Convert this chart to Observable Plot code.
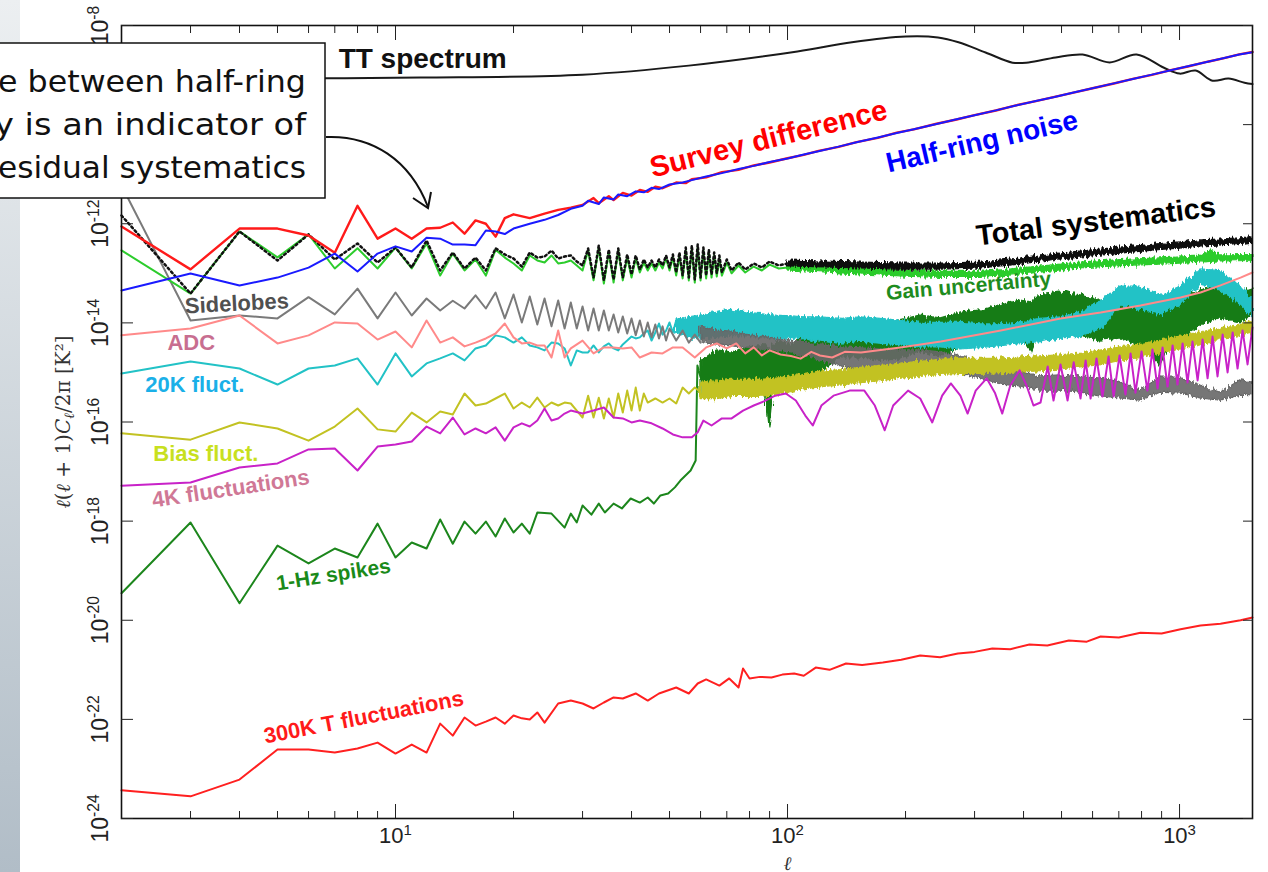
<!DOCTYPE html>
<html>
<head>
<meta charset="utf-8">
<script src="https://cdn.jsdelivr.net/npm/d3@7"></script>
<script src="https://cdn.jsdelivr.net/npm/@observablehq/plot@0.6"></script>
<style>
  html, body { margin: 0; padding: 0; background: #fff; overflow: hidden; }
  #chart { position: absolute; left: 0; top: 0; }
</style>
</head>
<body>
<div id="chart"></div>
<script>
// Angular power spectra, l(l+1)C_l/2pi in K^2, as [multipole, value] pairs.
const ttSpectrum = [[2,9.0e-10],[5,8.6e-10],[11.6,8.9e-10],[30,1.02e-9],[56,1.55e-9],[106,3.0e-9],[146,4.6e-9],[200,6.0e-9],[242,5.75e-9],[273,4.6e-9],[320,2.86e-9],[375,1.78e-9],[412,1.8e-9],[483,2.26e-9],[566,2.6e-9],[663,1.8e-9],[777,2.6e-9],[910,1.42e-9],[1000,1.07e-9],[1099,1.23e-9],[1214,7.7e-10],[1334,8.5e-10],[1465,7.0e-10],[1535,6.6e-10]];

const surveyDifference = [[2,8.8e-13],[3,1.2e-13],[4,8.0e-13],[5,8.0e-13],[6,5.8e-13],[7,2.6e-13],[8,2.3e-12],[9,5.0e-13],[10,8.0e-13],[11,5.0e-13],[12,8.0e-13],[13,8.3e-13],[14,1.06e-12],[15,6.3e-13],[16,1.17e-12],[17,1.0e-12],[18,5.5e-13],[19,1.3e-12],[20,1.55e-12],[22,1.3e-12],[24,1.6e-12],[26,1.9e-12],[28,2.1e-12],[30,2.4e-12],[32,3.3e-12],[33,2.6e-12],[35,3.6e-12],[36,3.0e-12],[38,4.2e-12],[40,3.7e-12],[42,4.8e-12],[44,4.4e-12],[46,5.6e-12],[48,5.2e-12],[52,6.8e-12],[55,6.6e-12],[57,7.9e-12],[62,8.6e-12],[68,1.1e-11],[75,1.22e-11],[82,1.5e-11],[90,1.72e-11],[100,2.1e-11],[110,2.45e-11],[120,2.95e-11],[135,3.55e-11],[150,4.45e-11],[170,5.4e-11],[190,6.9e-11],[210,8.0e-11],[240,1.04e-10],[270,1.27e-10],[300,1.56e-10],[340,1.93e-10],[380,2.42e-10],[430,2.98e-10],[480,3.62e-10],[540,4.48e-10],[600,5.42e-10],[680,6.75e-10],[760,8.35e-10],[850,1.01e-9],[950,1.26e-9],[1050,1.49e-9],[1180,1.86e-9],[1300,2.19e-9],[1420,2.62e-9],[1535,2.92e-9]];

const halfRingNoise = [[2,4.5e-14],[3,9.9e-14],[4,5.7e-14],[5,8.2e-14],[6,1.3e-13],[7,2.5e-13],[8,1.09e-13],[9,2.5e-13],[10,3.5e-13],[11,2.75e-13],[12,5.2e-13],[13,5.0e-13],[14,3.8e-13],[15,3.8e-13],[16,3.7e-13],[17,7.3e-13],[18,7.0e-13],[19,6.2e-13],[20,8.0e-13],[22,1.0e-12],[24,1.2e-12],[26,1.5e-12],[28,2.0e-12],[30,2.3e-12],[31,2.9e-12],[33,2.5e-12],[34,3.4e-12],[36,3.1e-12],[37,3.9e-12],[39,3.6e-12],[41,4.5e-12],[43,4.3e-12],[45,5.3e-12],[47,5.0e-12],[50,6.2e-12],[54,6.8e-12],[57,7.6e-12],[62,9.0e-12],[68,1.05e-11],[75,1.27e-11],[82,1.47e-11],[90,1.76e-11],[100,2.08e-11],[110,2.5e-11],[120,2.9e-11],[135,3.6e-11],[150,4.4e-11],[170,5.5e-11],[190,6.8e-11],[210,8.1e-11],[240,1.03e-10],[270,1.28e-10],[300,1.55e-10],[340,1.94e-10],[380,2.4e-10],[430,3.0e-10],[480,3.6e-10],[540,4.5e-10],[600,5.4e-10],[680,6.8e-10],[760,8.3e-10],[850,1.02e-9],[950,1.25e-9],[1050,1.5e-9],[1180,1.85e-9],[1300,2.2e-9],[1420,2.6e-9],[1535,2.9e-9]];

// Total of systematics: dotted at low multipoles, then a min/max band.
const totalLow = [[2,1.47e-12],[3,3.9e-14],[4,7.0e-13],[5,1.81e-13],[6,6.1e-13],[7,1.9e-13],[8,4.0e-13],[9,1.65e-13],[10,3.3e-13],[11,1.31e-13],[12,4.6e-13],[13,1.14e-13],[14,2.63e-13],[15,1.25e-13],[16,2.08e-13],[17,1.14e-13],[18,3.2e-13],[19,2.4e-13],[20,1.99e-13],[21,1.37e-13],[22,2.63e-13],[23,2.08e-13],[24,2.18e-13],[25,2.88e-13],[26,1.99e-13],[27,2.18e-13],[28,2.29e-13],[29,1.73e-13],[30,1.44e-13],[31,3.16e-13],[32,8.2e-14],[33,3.64e-13],[34,7.2e-14],[35,3.0e-13],[36,7.5e-14],[37,3.16e-13],[38,8.2e-14],[39,2.4e-13],[40,9.5e-14],[41,2.29e-13],[42,1.19e-13],[43,1.9e-13],[44,1.31e-13],[45,1.81e-13],[46,1.31e-13],[47,1.9e-13],[48,1.44e-13],[49,2.29e-13],[50,1.31e-13],[51,2.4e-13],[52,1.04e-13],[53,2.63e-13],[54,9.0e-14],[55,3.3e-13],[56,8.2e-14],[57,3.64e-13],[58,7.5e-14],[59,3.8e-13],[60,8.2e-14],[61,3.3e-13],[62,9.0e-14],[63,3.0e-13],[64,9.5e-14],[65,2.63e-13],[66,1.0e-13],[67,2.29e-13],[68,1.04e-13],[70,1.9e-13],[72,1.14e-13],[75,1.65e-13],[78,1.19e-13],[82,1.58e-13],[86,1.31e-13],[90,1.73e-13],[95,1.44e-13],[100,1.58e-13]];
const totalBand = [[100,1.8e-13,1.38e-13],[154,1.65e-13,1.25e-13],[194,1.57e-13,1.19e-13],[246,1.57e-13,1.19e-13],[311,1.65e-13,1.25e-13],[350,1.8e-13,1.38e-13],[393,1.98e-13,1.5e-13],[442,2.3e-13,1.73e-13],[497,2.5e-13,1.9e-13],[559,2.75e-13,2.08e-13],[629,3.0e-13,2.28e-13],[707,3.3e-13,2.5e-13],[795,3.55e-13,2.7e-13],[895,3.9e-13,2.95e-13],[1006,4.2e-13,3.16e-13],[1131,4.6e-13,3.5e-13],[1272,4.8e-13,3.65e-13],[1431,5.1e-13,3.9e-13],[1535,5.3e-13,4.1e-13]];

const gainLow = [[2,2.9e-13],[3,3.9e-14],[4,7.0e-13],[5,2.1e-13],[6,6.1e-13],[7,1.25e-13],[8,3.2e-13],[9,1.25e-13],[10,3.3e-13],[11,1.25e-13],[12,4.0e-13],[13,9.0e-14],[14,2.5e-13],[15,1.14e-13],[16,1.9e-13],[17,9.0e-14],[18,3.0e-13],[19,2.08e-13],[20,1.58e-13],[21,1.14e-13],[22,2.29e-13],[23,1.81e-13],[24,1.65e-13],[25,2.29e-13],[26,1.58e-13],[27,1.65e-13],[28,1.81e-13],[29,1.44e-13],[30,1.14e-13],[31,2.88e-13],[32,7.2e-14],[33,3.3e-13],[34,6.2e-14],[35,2.63e-13],[36,6.5e-14],[37,2.88e-13],[38,7.2e-14],[39,2.08e-13],[40,8.2e-14],[41,1.99e-13],[42,1.04e-13],[43,1.65e-13],[44,1.14e-13],[45,1.58e-13],[46,1.14e-13],[47,1.65e-13],[48,1.25e-13],[49,1.99e-13],[50,1.14e-13],[51,2.08e-13],[52,9.0e-14],[53,2.29e-13],[54,7.9e-14],[55,2.88e-13],[56,7.2e-14],[57,3.16e-13],[58,6.5e-14],[59,3.3e-13],[60,7.2e-14],[61,2.88e-13],[62,7.9e-14],[63,2.63e-13],[64,8.2e-14],[65,2.29e-13],[66,8.6e-14],[67,1.99e-13],[68,9.0e-14],[70,1.65e-13],[72,1.0e-13],[75,1.44e-13],[78,1.04e-13],[82,1.37e-13],[86,1.14e-13],[90,1.5e-13],[95,1.25e-13],[100,1.31e-13]];
const gainBand = [[100,1.5e-13,1.14e-13],[154,1.25e-13,9.5e-14],[194,1.15e-13,8.7e-14],[246,1.07e-13,8.1e-14],[311,1.07e-13,8.1e-14],[350,1.15e-13,8.7e-14],[442,1.37e-13,1.03e-13],[559,1.65e-13,1.25e-13],[707,1.85e-13,1.4e-13],[895,2.0e-13,1.5e-13],[1131,2.18e-13,1.65e-13],[1200,2.9e-13,1.7e-13],[1272,2.3e-13,1.73e-13],[1535,2.33e-13,1.77e-13]];

const sidelobesLow = [[2,5.9e-12],[3,1.12e-14],[4,1.41e-14],[5,1.23e-14],[6,3.3e-14],[7,1.48e-14],[8,4.9e-14],[9,1.23e-14],[10,4.1e-14],[11,1.41e-14],[12,3.1e-14],[13,1.78e-14],[14,2.8e-14],[15,1.95e-14],[16,3.6e-14],[17,1.95e-14],[18,4.1e-14],[19,1.23e-14],[20,3.74e-14],[21,1.02e-14],[22,3.4e-14],[23,9.3e-15],[24,3.1e-14],[25,8.5e-15],[26,2.83e-14],[27,7.7e-15],[28,2.58e-14],[29,7.7e-15],[30,2.14e-14],[31,7.0e-15],[32,1.95e-14],[33,7.0e-15],[34,1.78e-14],[35,7.0e-15],[36,1.48e-14],[37,6.4e-15],[38,1.35e-14],[39,6.1e-15],[40,1.23e-14],[41,5.6e-15],[42,1.12e-14],[43,5.3e-15],[44,1.02e-14],[45,5.1e-15],[46,9.3e-15],[47,4.85e-15],[48,8.5e-15],[49,4.4e-15],[50,7.7e-15],[52,4.4e-15],[54,7.0e-15],[56,4.0e-15],[58,5.8e-15],[60,4.0e-15]];
const sidelobesBand = [[60,8.5e-15,4.0e-15],[66,7.0e-15,3.5e-15],[72,6.7e-15,3.35e-15],[78,5.8e-15,3.2e-15],[85,5.3e-15,2.9e-15],[93,4.85e-15,2.78e-15],[102,4.4e-15,2.53e-15],[111,4.0e-15,2.1e-15],[121,3.5e-15,1.75e-15],[137,3.2e-15,1.32e-15],[154,3.05e-15,1.1e-15],[173,2.9e-15,1.05e-15],[194,2.78e-15,1.0e-15],[218,2.78e-15,1.0e-15],[246,2.53e-15,1.0e-15],[276,2.1e-15,9.5e-16],[311,1.6e-15,7.6e-16],[350,1.26e-15,5.7e-16],[393,1.0e-15,5.2e-16],[442,8.3e-16,4.3e-16],[497,8.7e-16,4.3e-16],[559,7.9e-16,3.9e-16],[629,7.6e-16,3.27e-16],[707,6.25e-16,2.98e-16],[795,4.3e-16,2.71e-16],[895,7.9e-16,3.9e-16],[1006,7.9e-16,3.75e-16],[1131,5.45e-16,2.98e-16],[1272,3.9e-16,2.71e-16],[1431,6.9e-16,3.4e-16],[1535,6.25e-16,3.27e-16]];

const adc = [[2,5.6e-15],[3,7.7e-15],[4,1.41e-14],[5,3.85e-15],[6,5.6e-15],[7,1.02e-14],[8,9.7e-15],[9,4.6e-15],[10,6.7e-15],[11,3.2e-15],[12,1.12e-14],[13,4.0e-15],[14,5.1e-15],[15,3.35e-15],[16,4.0e-15],[17,4.85e-15],[18,6.1e-15],[19,9.7e-15],[20,5.1e-15],[21,3.85e-15],[22,4.0e-15],[23,3.5e-15],[24,3.5e-15],[25,2.0e-15],[26,7.0e-15],[27,2.0e-15],[28,3.05e-15],[30,4.4e-15],[32,2.42e-15],[34,3.2e-15],[36,3.2e-15],[38,3.05e-15],[40,3.2e-15],[42,2.0e-15],[45,2.53e-15],[48,2.42e-15],[51,3.2e-15],[54,3.2e-15],[58,2.0e-15],[62,3.2e-15],[66,3.85e-15],[70,3.05e-15],[74,3.85e-15],[78,2.42e-15],[82,3.2e-15],[86,2.2e-15],[90,2.78e-15],[96,2.3e-15],[102,2.15e-15],[108,1.9e-15],[115,2.6e-15],[121,2.2e-15],[130,2.0e-15],[140,2.6e-15],[154,2.53e-15],[194,3.2e-15],[246,4.2e-15],[350,7.0e-15],[497,1.23e-14],[629,1.62e-14],[795,2.24e-14],[1006,3.25e-14],[1131,4.1e-14],[1272,5.7e-14],[1431,8.2e-14],[1535,1.04e-13]];

const fluct20KLow = [[2,9.5e-16],[3,1.67e-15],[4,1.2e-15],[5,5.7e-16],[6,1.2e-15],[7,1.38e-15],[8,1.92e-15],[9,5.7e-16],[10,2.42e-15],[11,8.3e-16],[12,1.52e-15],[13,1.92e-15],[14,2.42e-15],[15,1.75e-15],[16,3.05e-15],[17,3.5e-15],[18,5.6e-15],[19,5.1e-15],[20,4.0e-15],[21,5.1e-15],[22,3.5e-15],[23,3.2e-15],[24,2.78e-15],[25,4.0e-15],[26,3.85e-15],[27,3.05e-15],[28,1.38e-15],[29,2.78e-15],[30,2.53e-15],[31,2.53e-15],[32,3.5e-15],[33,2.53e-15],[34,3.35e-15],[35,3.85e-15],[36,3.05e-15],[37,2.78e-15],[38,3.67e-15],[39,4.4e-15],[40,5.3e-15],[41,4.85e-15],[42,5.1e-15],[43,6.1e-15],[44,7.0e-15],[45,4.4e-15],[46,6.4e-15],[47,9.7e-15],[48,5.8e-15],[49,7.0e-15],[50,1.02e-14],[51,6.4e-15],[52,1.12e-14],[53,6.0e-15],[54,1.2e-14]];
const fluct20KBand = [[52,1.15e-14,6.2e-15],[56,1.3e-14,5.0e-15],[60,1.4e-14,4.6e-15],[66,1.6e-14,5.0e-15],[72,1.75e-14,5.4e-15],[78,1.65e-14,5.4e-15],[85,1.5e-14,5.0e-15],[93,1.4e-14,4.6e-15],[102,1.35e-14,5.0e-15],[111,1.3e-14,4.6e-15],[121,1.3e-14,4.2e-15],[137,1.2e-14,3.8e-15],[154,1.3e-14,4.2e-15],[173,1.2e-14,3.8e-15],[194,1.1e-14,3.5e-15],[218,1.0e-14,3.2e-15],[246,1.0e-14,3.2e-15],[276,1.0e-14,2.9e-15],[311,9.3e-15,3.1e-15],[350,9.3e-15,3.4e-15],[393,1.0e-14,3.7e-15],[442,1.2e-14,4.1e-15],[497,1.3e-14,4.8e-15],[559,1.55e-14,5.3e-15],[629,2.7e-14,7.5e-15],[707,5.4e-14,2.3e-14],[795,5.4e-14,1.85e-14],[895,3.5e-14,1.45e-14],[1006,5.4e-14,2.3e-14],[1131,1.2e-13,5.9e-14],[1272,1.1e-13,4.7e-14],[1431,5.5e-14,2.3e-14],[1535,3.0e-14,1.3e-14]];

const biasLow = [[2,5.9e-17],[3,4.4e-17],[4,9.8e-17],[5,7.4e-17],[6,4.2e-17],[7,8.1e-17],[8,1.87e-16],[9,7.1e-17],[10,6.4e-17],[11,1.55e-16],[12,9.8e-17],[13,1.63e-16],[14,1.42e-16],[15,3.75e-16],[16,2.15e-16],[17,2.36e-16],[18,2.98e-16],[19,3.75e-16],[20,1.87e-16],[21,2.47e-16],[22,1.96e-16],[23,3.1e-16],[24,1.96e-16],[25,2.47e-16],[26,2.15e-16],[27,2.47e-16],[28,2.36e-16],[29,1.7e-16],[30,1.23e-16],[31,3.4e-16],[32,1.23e-16],[33,3.1e-16],[34,1.18e-16],[35,2.98e-16],[36,1.23e-16],[37,3.75e-16],[38,1.55e-16],[39,4.3e-16],[40,1.7e-16],[41,4.95e-16],[42,1.7e-16],[43,3.75e-16],[44,2.47e-16],[46,2.98e-16],[48,2.47e-16],[50,2.98e-16],[52,2.36e-16],[54,4.95e-16],[56,3.75e-16],[58,4.95e-16],[60,4.0e-16]];
const biasBand = [[60,6.5e-16,2.9e-16],[66,6.5e-16,2.9e-16],[72,7.1e-16,3.2e-16],[78,7.1e-16,3.2e-16],[85,7.1e-16,3.2e-16],[93,7.4e-16,3.5e-16],[102,8.2e-16,4.0e-16],[111,9.4e-16,4.6e-16],[121,1.03e-15,5.0e-16],[137,1.12e-15,5.5e-16],[154,1.24e-15,6.1e-16],[173,1.36e-15,6.7e-16],[194,1.5e-15,7.4e-16],[218,1.64e-15,8.1e-16],[246,1.8e-15,8.9e-16],[276,1.88e-15,9.3e-16],[311,1.88e-15,9.3e-16],[350,1.9e-15,9.7e-16],[393,2.0e-15,1.0e-15],[442,2.1e-15,1.06e-15],[497,2.2e-15,1.15e-15],[559,2.4e-15,1.26e-15],[629,2.75e-15,1.4e-15],[707,3.2e-15,1.7e-15],[795,3.65e-15,1.95e-15],[895,4.4e-15,2.4e-15],[1006,5.3e-15,2.9e-15],[1131,6.4e-15,3.5e-15],[1272,7.7e-15,4.4e-15],[1431,9.3e-15,5.5e-15],[1535,1.07e-14,6.4e-15]];

const fluct4K = [[2,5.2e-18],[3,6.0e-18],[4,1.21e-17],[5,1.46e-17],[6,2.8e-17],[7,2.93e-17],[8,1.05e-17],[9,3.2e-17],[10,3.5e-17],[11,4.05e-17],[12,8.1e-17],[13,5.9e-17],[14,1.23e-16],[15,5.6e-17],[16,7.4e-17],[17,5.9e-17],[18,7.8e-17],[19,4.2e-17],[20,7.8e-17],[21,9.4e-17],[22,8.1e-17],[23,1.07e-16],[24,1.87e-16],[25,1.07e-16],[26,1.18e-16],[27,1.48e-16],[28,1.7e-16],[30,1.48e-16],[32,1.7e-16],[34,1.96e-16],[36,1.23e-16],[38,1.18e-16],[40,9.8e-17],[42,1.07e-16],[45,9.4e-17],[48,7.4e-17],[51,5.6e-17],[54,4.9e-17],[57,4.9e-17],[59,6.2e-17],[61,1.07e-16],[64,8.5e-17],[68,1.18e-16],[72,1.18e-16],[77,1.7e-16],[82,2.15e-16],[87,2.6e-16],[93,3.4e-16],[99,3.75e-16],[105,2.71e-16],[111,1.35e-16],[116,8.5e-17],[122,2.15e-16],[131,3.4e-16],[144,4.3e-16],[157,4.3e-16],[167,2.15e-16],[177,6.8e-17],[186,2.15e-16],[203,4.3e-16],[218,2.98e-16],[234,9.8e-17],[248,3.4e-16],[261,6.0e-16],[276,3.4e-16],[288,1.48e-16],[302,4.3e-16],[322,7.6e-16],[338,3.9e-16],[353,1.48e-16],[370,5.45e-16],[391,1.1e-15],[407,5.45e-16],[424,2.15e-16],[442,2.47e-16],[461,1.32e-15],[477,2.71e-16],[497,1.45e-15],[518,2.71e-16],[537,1.6e-15],[559,2.98e-16],[576,1.75e-15],[593,2.98e-16],[614,1.92e-15],[636,3.27e-16],[659,2.1e-15],[679,3.27e-16],[703,2.2e-15],[728,3.6e-16],[750,2.42e-15],[772,3.9e-16],[800,2.65e-15],[828,4.3e-16],[853,2.9e-15],[879,4.75e-16],[905,3.2e-15],[932,5.2e-16],[960,3.5e-15],[988,5.7e-16],[1018,3.85e-15],[1048,6.25e-16],[1079,4.2e-15],[1112,6.9e-16],[1145,4.6e-15],[1179,7.6e-16],[1214,5.3e-15],[1250,8.3e-16],[1288,5.8e-15],[1326,1.0e-15],[1366,6.4e-15],[1406,1.2e-15],[1448,7.0e-15],[1491,1.45e-15],[1535,8.1e-15]];

const spikes1HzLow = [[2,3.5e-20],[3,9.4e-19],[4,2.2e-20],[5,3.2e-19],[6,1.4e-19],[7,2.8e-19],[8,1.85e-19],[9,8.9e-19],[10,1.85e-19],[11,3.7e-19],[12,2.8e-19],[13,1.08e-18],[14,3.5e-19],[15,9.8e-19],[16,5.6e-19],[17,9.8e-19],[18,4.9e-19],[19,1.13e-18],[20,5.9e-19],[21,8.9e-19],[22,5.6e-19],[23,1.49e-18],[25,1.42e-18],[27,7.4e-19],[28,1.42e-18],[29,9.4e-19],[30,2.07e-18],[31.6,1.35e-18],[33,2.26e-18],[34.2,1.49e-18],[36,2.26e-18],[37.8,1.8e-18],[39.8,2.86e-18],[42,2.37e-18],[44,3.0e-18],[45.6,2.26e-18],[47.4,3.3e-18],[49.6,3.6e-18],[51.6,4.8e-18],[53.3,6.6e-18],[56.6,1.05e-17],[58.3,1.67e-17],[58.9,1.38e-15],[60,8.0e-16]];
const spikes1HzBand = [[60,1.6e-15,3.4e-16],[66,2.78e-15,4.3e-16],[72,2.53e-15,3.9e-16],[78,3.05e-15,3.9e-16],[85,3.5e-15,3.4e-16],[88,3.5e-15,3.9e-16],[90,2.78e-15,7.8e-17],[92,3.5e-15,4.3e-16],[96,4.4e-15,5.45e-16],[102,3.5e-15,7.6e-16],[111,5.6e-15,8.7e-16],[121,6.1e-15,1.0e-15],[137,7.0e-15,2.0e-15],[154,7.7e-15,2.0e-15],[173,7.0e-15,1.8e-15],[194,1.12e-14,1.92e-15],[218,1.41e-14,2.53e-15],[246,1.23e-14,2.1e-15],[276,1.62e-14,3.05e-15],[311,1.78e-14,3.5e-15],[350,2.24e-14,4.4e-15],[393,2.83e-14,4.85e-15],[420,2.58e-14,2.53e-15],[442,3.6e-14,7.0e-15],[497,4.1e-14,6.4e-15],[559,3.6e-14,5.6e-15],[629,2.83e-14,4.4e-15],[707,2.58e-14,4.85e-15],[795,2.24e-14,3.5e-15],[895,1.78e-14,1.38e-15],[950,2.24e-14,3.5e-15],[1006,2.83e-14,4.4e-15],[1131,4.5e-14,8.9e-15],[1272,5.7e-14,1.23e-14],[1431,4.1e-14,1.02e-14],[1535,4.95e-14,1.41e-14]];

const fluct300K = [[2,3.7e-24],[3,2.8e-24],[4,6.1e-24],[5,2.46e-23],[6,2.46e-23],[7,2.14e-23],[8,2.58e-23],[9,3.4e-23],[10,2.04e-23],[11,3.1e-23],[12,2.14e-23],[13,8.2e-23],[14,4.7e-23],[15,1.09e-22],[16,7.5e-23],[17,9.0e-23],[18,1.09e-22],[19,8.2e-23],[20,1.2e-22],[21,1.05e-22],[22,9.9e-23],[23,1.38e-22],[24,8.6e-23],[26,2.09e-22],[28,2.4e-22],[30,2.09e-22],[32,1.66e-22],[34,2.19e-22],[36,2.77e-22],[38,2.64e-22],[41,3.33e-22],[44,2.4e-22],[47,3.33e-22],[52,4.4e-22],[56,3.33e-22],[59,5.3e-22],[62,6.4e-22],[67,4.8e-22],[71,6.7e-22],[75,4.4e-22],[77,1.06e-21],[80,6.7e-22],[85,7.2e-22],[91,7.0e-22],[97,8.0e-22],[104,8.4e-22],[110,7.6e-22],[118,1.11e-21],[128,1.0e-21],[141,1.34e-21],[155,1.25e-21],[175,1.4e-21],[195,1.6e-21],[218,1.94e-21],[245,1.8e-21],[272,2.13e-21],[300,2.3e-21],[333,2.69e-21],[370,2.6e-21],[414,3.24e-21],[460,3.1e-21],[522,3.9e-21],[580,3.7e-21],[629,4.7e-21],[700,4.5e-21],[795,5.6e-21],[900,5.4e-21],[1006,6.6e-21],[1131,7.8e-21],[1272,8.5e-21],[1431,1.0e-20],[1535,1.14e-20]];

// Axis ticks
const xMinorTicks = [3,4,5,6,7,8,9,20,30,40,50,60,70,80,90,200,300,400,500,600,700,800,900];
const xMajorTicks = [10,100,1000];
const yTicks = [1e-24,1e-22,1e-20,1e-18,1e-16,1e-14,1e-12,1e-10,1e-8];

// In-plot series labels: anchor at the start of the text baseline
const seriesLabels = [
  {text: "TT spectrum", ell: 7.16, val: 1.42e-9, color: "#111111", size: 28, angle: 0},
  {text: "Survey difference", ell: 45.3, val: 8.6e-12, color: "#ff0000", size: 29, angle: -14},
  {text: "Half-ring noise", ell: 181, val: 1.08e-11, color: "#0000ff", size: 28, angle: -13},
  {text: "Total systematics", ell: 305, val: 3.64e-13, color: "#000000", size: 29, angle: -7},
  {text: "Gain uncertainty", ell: 179, val: 2.9e-14, color: "#1e8c1e", size: 21, angle: -5},
  {text: "Sidelobes", ell: 2.91, val: 1.55e-14, color: "#505050", size: 22, angle: -3},
  {text: "ADC", ell: 2.62, val: 2.78e-15, color: "#c86e90", size: 22, angle: 0},
  {text: "20K fluct.", ell: 2.30, val: 4.1e-16, color: "#1ab0e8", size: 22, angle: 0},
  {text: "Bias fluct.", ell: 2.41, val: 1.6e-17, color: "#c8e01e", size: 22, angle: 0},
  {text: "4K fluctuations", ell: 2.41, val: 1.88e-18, color: "#d07896", size: 22, angle: -8.5},
  {text: "1-Hz spikes", ell: 5.0, val: 4.0e-20, color: "#1a8a1a", size: 21, angle: -9},
  {text: "300K T fluctuations", ell: 4.66, val: 3.25e-23, color: "#ff1a1a", size: 22, angle: -11}
];

const pow10 = v => "10^" + Math.round(Math.log10(v));

const sans = "Liberation Sans, Arial, Helvetica, sans-serif";
const line = (data, stroke, opts = {}) => Plot.line(data, {x: "0", y: "1", stroke, strokeWidth: 2, ...opts});
const band = (data, color, opts = {}) => Plot.areaY(data, {x: "0", y1: "1", y2: "2", fill: color, stroke: color, strokeWidth: 1.2, ...opts});

const chart = Plot.plot({
  width: 1268,
  height: 872,
  marginLeft: 121,
  marginRight: 16,
  marginTop: 25,
  marginBottom: 54,
  style: {background: "transparent", overflow: "visible", fontFamily: sans},
  x: {type: "log", domain: [2, 1535], axis: null, label: null},
  y: {type: "log", domain: [1e-24, 1e-8], axis: null, label: null},
  marks: [
    line(spikes1HzLow, "#1c861c"),
    band(spikes1HzBand, "#137c13"),
    line(fluct20KLow, "#22c2c6"),
    band(fluct20KBand, "#22c2c6"),
    line(sidelobesLow, "#7a7a7a"),
    band(sidelobesBand, "#666666", {fillOpacity: 0.9}),
    line(biasLow, "#c2c222"),
    band(biasBand, "#c2c222"),
    line(fluct4K, "#c822c8"),
    line(adc, "#ff8a8a"),
    line(fluct300K, "#ff2020"),
    line(gainLow, "#2ccc2c"),
    band(gainBand, "#2ccc2c"),
    line(totalLow, "#111111", {strokeWidth: 2.5, strokeDasharray: "2,3"}),
    band(totalBand, "#111111"),
    Plot.line(ttSpectrum, {x: "0", y: "1", stroke: "#1a1a1a", strokeWidth: 2, curve: "catmull-rom"}),
    line(surveyDifference, "#ff1a1a", {strokeWidth: 2.4}),
    line(halfRingNoise, "#1a1aff", {strokeWidth: 2}),
    ...seriesLabels.map(l => Plot.text([l], {
      x: "ell", y: "val", text: "text", fill: l.color, fontSize: l.size, fontWeight: "bold",
      fontFamily: sans, rotate: l.angle, textAnchor: "start", lineAnchor: "bottom"
    })),
    Plot.frame({stroke: "#111", strokeWidth: 1.6}),
    Plot.axisX(xMinorTicks, {anchor: "bottom", tickSize: -7, tickFormat: () => "", label: null, stroke: "#222"}),
    Plot.axisX(xMajorTicks, {anchor: "bottom", tickSize: -14, tickFormat: () => "", label: null, stroke: "#222"}),
    Plot.axisX(xMinorTicks, {anchor: "top", tickSize: -7, tickFormat: () => "", label: null, stroke: "#222"}),
    Plot.axisX(xMajorTicks, {anchor: "top", tickSize: -14, tickFormat: () => "", label: null, stroke: "#222"}),
    Plot.axisX(xMajorTicks, {anchor: "bottom", tickSize: 0, tickPadding: 9, tickFormat: pow10, label: null, fontSize: 22, fill: "#222"}),
    Plot.axisY(yTicks, {anchor: "left", tickSize: -12, tickFormat: () => "", label: null, stroke: "#222"}),
    Plot.axisY(yTicks, {anchor: "right", tickSize: -10, tickFormat: () => "", label: null, stroke: "#222"}),
    Plot.axisY(yTicks, {anchor: "left", tickSize: 0, tickPadding: 14, tickRotate: -90, tickFormat: pow10, label: null, fontSize: 23, fill: "#222"}),
    Plot.text([100], {x: d => d, frameAnchor: "bottom", dy: 51, text: () => "\u2113", fontSize: 19, fontStyle: "italic", fontFamily: "DejaVu Serif, serif", fill: "#333", lineAnchor: "bottom"})
  ]
});

document.getElementById("chart").append(chart);

const svg = d3.select(chart);

// Powers of ten: base plus raised exponent
svg.selectAll("text").each(function () {
  const t = d3.select(this);
  const m = /^10\^(-?\d+)$/.exec(t.text());
  if (!m) return;
  t.text(null);
  t.append("tspan").text("10");
  t.append("tspan").attr("dy", "-0.55em").attr("font-size", "0.68em").text(m[1]);
});

// Defs: slide-edge gradient and a fine jitter for the densely oscillating spectra
const defs = svg.insert("defs", ":first-child");
const grad = defs.append("linearGradient").attr("id", "edgeStrip").attr("x1", 0).attr("y1", 0).attr("x2", 0).attr("y2", 1);
grad.append("stop").attr("offset", "0%").attr("stop-color", "#eceff1");
grad.append("stop").attr("offset", "100%").attr("stop-color", "#b1bdc7");
const rough = defs.append("filter").attr("id", "rough").attr("filterUnits", "userSpaceOnUse")
  .attr("x", 0).attr("y", 0).attr("width", 1268).attr("height", 872);
rough.append("feTurbulence").attr("type", "fractalNoise").attr("baseFrequency", "0.5 0.06")
  .attr("numOctaves", 2).attr("seed", 7).attr("result", "noise");
rough.append("feDisplacementMap").attr("in", "SourceGraphic").attr("in2", "noise")
  .attr("scale", 8).attr("xChannelSelector", "R").attr("yChannelSelector", "G");
svg.selectAll('g[aria-label="area"]').attr("filter", "url(#rough)");

svg.insert("rect", "defs + *").attr("x", 0).attr("y", 0).attr("width", 20).attr("height", 872).attr("fill", "url(#edgeStrip)");

// Y-axis title with subscript
const yTitle = svg.append("text")
  .attr("transform", "translate(70,422) rotate(-90)")
  .attr("text-anchor", "middle")
  .attr("font-family", "DejaVu Serif, serif")
  .attr("font-size", 20)
  .attr("fill", "#333");
yTitle.append("tspan").attr("font-style", "italic").text("\u2113");
yTitle.append("tspan").text("(");
yTitle.append("tspan").attr("font-style", "italic").text("\u2113");
yTitle.append("tspan").text(" + 1)");
yTitle.append("tspan").attr("font-style", "italic").text("C");
yTitle.append("tspan").attr("font-style", "italic").attr("font-size", 14).attr("dy", 4).text("\u2113");
yTitle.append("tspan").attr("dy", -4).text("/2\u03C0 [K\u00B2]");

// Callout box with arrow
const note = svg.append("g");
note.append("rect").attr("x", -10).attr("y", 43).attr("width", 335).attr("height", 155)
  .attr("fill", "#fff").attr("stroke", "#111").attr("stroke-width", 1.5);
const noteLines = [
  {text: "e between half-ring", y: 92, len: 308},
  {text: "y is an indicator of", y: 135, len: 312},
  {text: "esidual systematics", y: 178, len: 308}
];
for (const l of noteLines) {
  note.append("text").attr("x", 306).attr("y", l.y).attr("text-anchor", "end")
    .attr("font-family", "DejaVu Sans, sans-serif").attr("font-size", 31).attr("fill", "#111")
    .attr("textLength", l.len).attr("lengthAdjust", "spacingAndGlyphs").text(l.text);
}
note.append("path").attr("d", "M326,137 C372,135 410,160 428,207")
  .attr("fill", "none").attr("stroke", "#111").attr("stroke-width", 2);
note.append("path").attr("d", "M413,198 L428,208 L431,192")
  .attr("fill", "none").attr("stroke", "#111").attr("stroke-width", 2);
</script>
</body>
</html>
